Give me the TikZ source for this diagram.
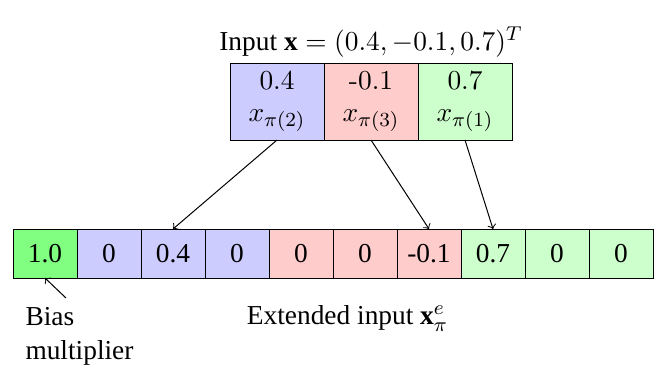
\documentclass[11pt,tikz,border=0pt]{standalone}
\usepackage{fontspec}
\setmainfont{Liberation Serif}
\usetikzlibrary{positioning}
\newcommand\lmrm{\fontfamily{lmr}\selectfont}
\tikzset{
  cell/.style={draw,outer sep=0pt,minimum width=25.6pt,minimum height=19.6pt,inner sep=0pt},
  inbox/.style={draw,outer sep=0pt,minimum width=37.6pt,minimum height=30.8pt,inner sep=0pt,align=center,font=\lmrm},
  every path/.style={>=to}
}

\begin{document}
\begin{tikzpicture}
  \useasboundingbox (0,0) rectangle (264.4pt,-148.4pt);
  \node (title) at (148.4pt,-16.8pt) {Input $\mathbf{x} = (0.4, -0.1, 0.7)^T$};
  % input vector
  \node[inbox,fill=blue!20] (in1) at (110.8pt,-40.6pt) {0.4\\[-1pt]$x_{\pi(2)}$};
  \node[inbox,fill=red!20,right=0pt of in1] (in2) {-0.1\\[-1pt]$x_{\pi(3)}$};
  \node[inbox,fill=green!20,right=0pt of in2] (in3) {0.7\\[-1pt]$x_{\pi(1)}$};
  % extended input
  \node[cell,fill=green!50] (e0) at (18pt,-101.4pt) {1.0};
  \foreach \v/\c [count=\i from 1] in {0/blue,0.4/blue,0/blue,0/red,0/red,-0.1/red,0.7/green,0/green,0/green}{
    \pgfmathtruncatemacro\j{\i-1}
    \node[cell,fill=\c!20,right=0pt of e\j] (e\i) {\v};
  }
  \draw[->] (in1.south) -- (e2.north);
  \draw[->] (in2.south) -- (e6.north);
  \draw[->] (in3.south) -- (e7.north);
  \node (ext) at (139pt,-127.4pt) {Extended input $\mathbf{x}^e_\pi$};
  \node[align=left,anchor=north west,inner sep=0pt] (bias) at (10pt,-122.6pt) {Bias\\multiplier};
  \coordinate (biastail) at (26.4pt,-119.2pt);
  \draw[->] (biastail) -- (e0.south);
\end{tikzpicture}
\end{document}
